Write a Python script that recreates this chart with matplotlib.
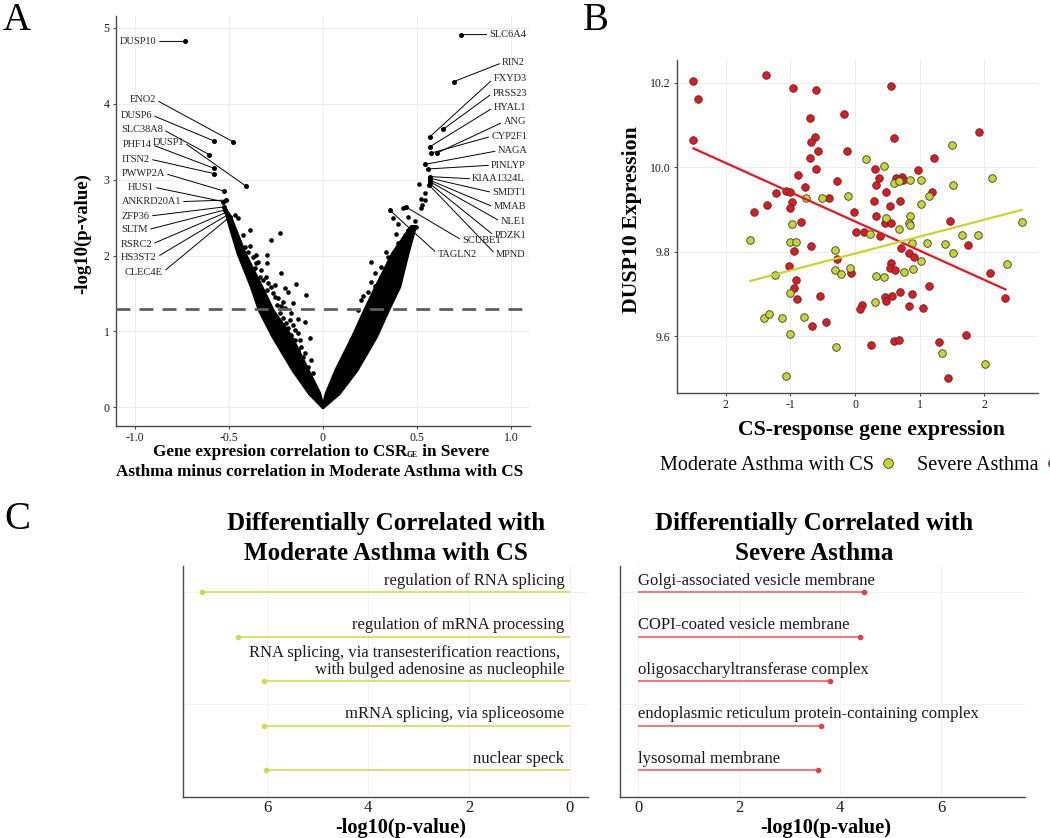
import matplotlib as mpl
import matplotlib.pyplot as plt
import numpy as np
from matplotlib.lines import Line2D
from matplotlib.text import Annotation

mpl.rcParams['font.family'] = 'serif'
mpl.rcParams['font.serif'] = ['Liberation Serif', 'DejaVu Serif']

# ---------------- panel A: volcano-like plot ----------------
left_genes = ["DUSP10", "ENO2", "DUSP6", "SLC38A8", "DUSP1", "PHF14", "ITSN2",
              "PWWP2A", "HUS1", "ANKRD20A1", "ZFP36", "SLTM", "RSRC2", "HS3ST2", "CLEC4E"]
left_x = [-0.734, -0.479, -0.580, -0.605, -0.407, -0.580, -0.580, -0.527, -0.531,
          -0.516, -0.527, -0.522, -0.513, -0.504, -0.495]
left_y = [4.82, 3.50, 3.51, 3.33, 2.91, 3.15, 3.08, 2.85, 2.71, 2.73, 2.64, 2.60,
          2.57, 2.54, 2.51]
left_lab_x = [-0.883, -0.888, -0.909, -0.851, -0.739, -0.909, -0.920, -0.840, -0.898,
              -0.755, -0.920, -0.931, -0.909, -0.883, -0.851]
left_lab_y = [4.82, 4.05, 3.85, 3.66, 3.49, 3.46, 3.27, 3.08, 2.90, 2.71, 2.52, 2.34,
              2.15, 1.98, 1.78]

right_genes = ["SLC6A4", "RIN2", "FXYD3", "PRSS23", "HYAL1", "ANG", "CYP2F1", "NAGA",
               "PINLYP", "KIAA1324L", "SMDT1", "MMAB", "NLE1", "PDZK1", "MPND",
               "SCUBE1", "TAGLN2"]
right_x = [0.735, 0.694, 0.566, 0.637, 0.566, 0.605, 0.575, 0.540, 0.557, 0.566,
           0.566, 0.570, 0.570, 0.566, 0.563, 0.440, 0.354]
right_y = [4.91, 4.29, 3.56, 3.66, 3.43, 3.35, 3.35, 3.20, 3.14, 3.04, 3.02, 2.99,
           2.97, 2.95, 2.93, 2.64, 2.60]
right_lab_x = [0.885, 0.952, 0.906, 0.902, 0.906, 0.959, 0.894, 0.929, 0.894, 0.793,
               0.899, 0.906, 0.943, 0.911, 0.920, 0.740, 0.610]
right_lab_y = [4.91, 4.54, 4.33, 4.14, 3.95, 3.76, 3.57, 3.38, 3.19, 3.01, 2.83, 2.64,
               2.45, 2.26, 2.01, 2.20, 2.02]

# dense cloud of genes: outline of the two arms
left_arm_y = [0, 0.18, 0.49, 0.93, 1.27, 1.59, 2.03, 2.47, 2.56]
left_arm_outer = [0, -0.071, -0.159, -0.265, -0.336, -0.380, -0.451, -0.504, -0.512]
left_arm_inner = [0, -0.018, -0.080, -0.168, -0.265, -0.327, -0.416, -0.486, -0.505]
right_arm_y = [0, 0.18, 0.49, 0.93, 1.27, 1.59, 2.03, 2.38]
right_arm_outer = [0, 0.085, 0.180, 0.283, 0.345, 0.407, 0.451, 0.490]
right_arm_inner = [0, 0.018, 0.070, 0.159, 0.221, 0.283, 0.372, 0.470]

# scattered genes off the dense arms
scat_x = [-0.425, -0.389, -0.451, -0.469, -0.274, -0.226, -0.389, -0.357, -0.300,
          -0.300, -0.354, -0.225, -0.304, -0.141, -0.256, -0.203, -0.186, -0.088,
          -0.256, -0.212, -0.159, -0.221, -0.168, -0.133, -0.097, -0.186, -0.133,
          -0.071, -0.150, -0.115, -0.097, -0.062, -0.080, -0.053,
          -0.416, -0.398, -0.372, -0.345, -0.363, -0.327, -0.336, -0.318, -0.292,
          -0.274, -0.300, -0.265, -0.239, -0.247, -0.203, -0.230, -0.212, -0.177,
          -0.194, -0.159, -0.150, -0.168, -0.124, -0.133, -0.106, -0.115, -0.088,
          -0.071, -0.062, -0.044,
          0.425, 0.451, 0.372, 0.398, 0.390, 0.487, 0.496, 0.508, 0.522, 0.540,
          0.522, 0.527, 0.540, 0.336, 0.345, 0.310, 0.327, 0.398, 0.310, 0.257,
          0.274, 0.253, 0.274, 0.239, 0.212, 0.204, 0.186, 0.177, 0.151, 0.133,
          0.098, 0.451, 0.434]
scat_y = [2.27, 2.34, 2.49, 2.53, 2.20, 2.30, 2.13, 2.01, 2.01, 1.90, 1.90, 1.77,
          1.72, 1.63, 1.61, 1.57, 1.52, 1.48, 1.46, 1.39, 1.37, 1.33, 1.24, 1.16,
          1.13, 1.04, 0.975, 0.91, 0.89, 0.80, 0.71, 0.62, 0.535, 0.45,
          2.116, 2.05, 1.984, 1.918, 1.831, 1.809, 1.72, 1.677, 1.634, 1.589, 1.545,
          1.502, 1.436, 1.348, 1.304, 1.238, 1.173, 1.150, 1.107, 1.084, 1.018,
          0.953, 0.887, 0.755, 0.667, 0.601, 0.514, 0.403, 0.316, 0.250,
          2.63, 2.51, 2.49, 2.42, 2.29, 2.45, 2.38, 2.94, 2.75, 2.73, 2.62, 2.67,
          2.82, 2.05, 1.98, 1.85, 1.79, 2.16, 1.72, 1.91, 1.77, 1.65, 1.60, 1.52,
          1.47, 1.41, 1.28, 1.00, 0.89, 0.755, 0.58, 2.34, 2.27]
sig_line = 1.3

# ---------------- panel B: scatter ----------------
sev_x = [-2.50, -1.38, -2.43, -0.96, -0.60, 0.562, -2.50, -0.70, -0.176, 0.608,
         1.913, -0.625, -0.687, -0.573, -0.124, -0.70, 1.223, -0.60, 0.304, 0.975,
         -0.878, -0.274, 0.371, 0.639, 0.722, 0.743, 0.319, -0.780, -1.218, -1.074,
         -1.002, 0.474, 1.192, -0.408, -0.971, 0.288, 0.701, 0.536, -1.362, -1.569,
         -1.012, -0.011, 0.319, 1.465, -0.831, 0.458, 0.562, 0.010, 0.133, 0.392,
         -0.950, -0.676, -0.279, 1.749, 0.717, 0.836, 0.913, 0.562, 0.536, 0.619,
         -1.022, -0.068, -0.919, -0.944, -0.898, -0.537, 1.146, 2.084, 2.322, 0.701,
         0.876, 0.458, 0.577, 0.485, 0.113, 0.082, 0.830, 1.053, -0.672, -0.444,
         0.252, 0.608, 0.675, 1.294, 1.707, 1.429]
sev_y = [10.204, 10.217, 10.161, 10.188, 10.183, 10.192, 10.064, 10.117, 10.125, 10.070,
         10.084, 10.072, 10.060, 10.038, 10.038, 10.022, 10.021, 9.996, 9.995, 9.993,
         9.981, 9.968, 9.974, 9.974, 9.976, 9.969, 9.958, 9.952, 9.938, 9.943,
         9.940, 9.940, 9.940, 9.928, 9.917, 9.919, 9.919, 9.909, 9.911, 9.894,
         9.903, 9.894, 9.885, 9.873, 9.870, 9.868, 9.867, 9.847, 9.847, 9.837,
         9.802, 9.814, 9.782, 9.816, 9.808, 9.796, 9.788, 9.774, 9.760, 9.756,
         9.767, 9.749, 9.733, 9.714, 9.688, 9.694, 9.718, 9.750, 9.690, 9.705,
         9.699, 9.693, 9.696, 9.683, 9.673, 9.663, 9.672, 9.667, 9.624, 9.634,
         9.579, 9.588, 9.591, 9.587, 9.602, 9.501]
mod_x = [1.500, 0.175, 0.443, 0.604, 0.681, 0.846, 1.016, 1.517, 2.110, 1.146,
         -0.754, -0.506, -0.104, 1.016, 0.846, 0.474, 2.574, -0.975, 0.836, 0.846,
         0.681, -1.621, 0.237, -1.012, -0.909, -0.315, 0.887, 1.104, 1.387, 1.656,
         1.904, 1.016, 1.506, 2.342, 0.752, 0.898, -1.238, -0.315, -0.212, -0.084,
         0.330, 0.443, -1.012, 0.310, -1.409, -1.331, -1.125, -0.789, -1.012, -0.289,
         1.351, 2.006, -1.074]
mod_y = [10.052, 10.018, 10.003, 9.962, 9.967, 9.969, 9.969, 9.958, 9.974, 9.932,
         9.926, 9.928, 9.932, 9.913, 9.885, 9.880, 9.869, 9.865, 9.868, 9.863,
         9.853, 9.827, 9.842, 9.823, 9.823, 9.803, 9.821, 9.820, 9.817, 9.839,
         9.839, 9.778, 9.797, 9.770, 9.752, 9.758, 9.745, 9.756, 9.746, 9.762,
         9.741, 9.740, 9.703, 9.681, 9.642, 9.652, 9.642, 9.645, 9.606, 9.573,
         9.560, 9.535, 9.506]

# ---------------- panel C: enrichment lollipops ----------------
mod_terms = ["regulation of RNA splicing", "regulation of mRNA processing",
             "RNA splicing, via transesterification reactions, \nwith bulged adenosine as nucleophile",
             "mRNA splicing, via spliceosome", "nuclear speck"]
mod_pval = [7.28, 6.57, 6.06, 6.06, 6.03]
sev_terms = ["Golgi-associated vesicle membrane", "COPI-coated vesicle membrane",
             "oligosaccharyltransferase complex",
             "endoplasmic reticulum protein-containing complex", "lysosomal membrane"]
sev_pval = [4.47, 4.40, 3.79, 3.61, 3.55]

RED = '#E8161D'
GREEN = '#C8D62B'
W, H = 1050, 838


def fx(px):
    return px / W


def fy(py):
    return 1 - py / H


def style(ax, size):
    for s in ['top', 'right']:
        ax.spines[s].set_visible(False)
    for s in ['left', 'bottom']:
        ax.spines[s].set_color('#4A4A4A')
        ax.spines[s].set_linewidth(1.0)
    ax.grid(True, color='#EDEDED', lw=0.7)
    ax.set_axisbelow(True)
    ax.tick_params(length=2.5, width=0.8, color='#4A4A4A', labelcolor='#1A1A1A',
                   labelsize=size, pad=2)


fig = plt.figure(figsize=(W / 100, H / 100), dpi=100)

# ----- A -----
axA = fig.add_axes([fx(116), fy(426), (530 - 116) / W, (426 - 16) / H])
style(axA, 8.5)
for outer, inner, ys in [(left_arm_outer, left_arm_inner, left_arm_y),
                         (right_arm_outer, right_arm_inner, right_arm_y)]:
    axA.fill(np.concatenate([outer, inner[::-1]]), np.concatenate([ys, ys[::-1]]),
             color='black', lw=2.5, joinstyle='round', zorder=2)
axA.scatter(scat_x, scat_y, s=11, color='black', lw=0, zorder=3)
axA.scatter(left_x + right_x, left_y + right_y, s=13, color='black', lw=0, zorder=3)
axA.axhline(sig_line, color='#5E5E5E', lw=2.0, ls=(0, (5, 3.3)), zorder=4)
for g, px, py, lx, ly in zip(left_genes, left_x, left_y, left_lab_x, left_lab_y):
    axA.annotate(g, xy=(px, py), xytext=(lx, ly), ha='right', va='center', fontsize=7.5,
                 color='#222222',
                 arrowprops=dict(arrowstyle='-', lw=0.7, color='black', relpos=(1, 0.5),
                                 shrinkA=0, shrinkB=1))
for g, px, py, lx, ly in zip(right_genes, right_x, right_y, right_lab_x, right_lab_y):
    axA.annotate(g, xy=(px, py), xytext=(lx, ly), ha='left', va='center', fontsize=7.5,
                 color='#222222',
                 arrowprops=dict(arrowstyle='-', lw=0.7, color='black', relpos=(0, 0.5),
                                 shrinkA=0, shrinkB=1))
axA.set_xlim(-1.1, 1.1)
axA.set_ylim(-0.2455, 5.155)
axA.set_xticks([-1, -0.5, 0, 0.5, 1])
axA.set_xticklabels(['-1.0', '-0.5', '0', '0.5', '1.0'])
axA.set_yticks([0, 1, 2, 3, 4, 5])
fig.text(fx(83), fy(234), '-log10(p-value)', rotation=90, ha='center', va='center',
         fontsize=13.5, fontweight='bold')
# x label, first line built from pieces so that "GE" is a tiny subscript
t1 = fig.text(fx(152.7), fy(451.7), 'Gene expresion correlation to CSR', ha='left',
              va='center', fontsize=12.3, fontweight='bold')
t2 = fig.add_artist(Annotation('GE', xy=(1, 0.02), xycoords=t1, ha='left',
                               va='bottom', fontsize=5.5, fontweight='bold'))
fig.add_artist(Annotation(' in Severe', xy=(1, 0), xycoords=(t2, t1), ha='left',
                          va='bottom', fontsize=12.3, fontweight='bold'))
fig.text(fx(320), fy(471.7), 'Asthma minus correlation in Moderate Asthma with CS',
         ha='center', va='center', fontsize=12.3, fontweight='bold')

# ----- B -----
axB = fig.add_axes([fx(677), fy(393), (1038 - 677) / W, (393 - 60.3) / H])
style(axB, 8.5)
axB.scatter(sev_x, sev_y, s=30, color=RED, edgecolor='#3A3A3A', lw=0.6, zorder=3)
axB.scatter(mod_x, mod_y, s=30, color=GREEN, edgecolor='#3A3A3A', lw=0.6, zorder=3)
for xs, ys, c in [(sev_x, sev_y, RED), (mod_x, mod_y, GREEN)]:
    k, b = np.polyfit(xs, ys, 1)
    xl = np.array([min(xs), max(xs)])
    axB.plot(xl, k * xl + b, color=c, lw=1.6, zorder=4)
allx = sev_x + mod_x
ally = sev_y + mod_y
sx = max(allx) - min(allx)
sy = max(ally) - min(ally)
axB.set_xlim(min(allx) - 0.05 * sx, max(allx) + 0.05 * sx)
axB.set_ylim(min(ally) - 0.05 * sy, max(ally) + 0.05 * sy)
axB.set_xticks([-2, -1, 0, 1, 2])
axB.set_xticklabels(['2', '-1', '0', '1', '2'])
axB.set_yticks([9.6, 9.8, 10.0, 10.2])
fig.text(fx(632), fy(220), 'DUSP10 Expression', rotation=90, ha='center', va='center',
         fontsize=15.7, fontweight='bold')
fig.text(fx(872), fy(430), 'CS-response gene expression', ha='center', va='center',
         fontsize=15.7, fontweight='bold')
handles = [Line2D([], [], ls='', marker='o', ms=7, mfc=GREEN, mec='#3A3A3A', mew=0.6),
           Line2D([], [], ls='', marker='o', ms=7, mfc=RED, mec='#3A3A3A', mew=0.6)]
fig.legend(handles, ['Moderate Asthma with CS', 'Severe Asthma'], loc='center',
           bbox_to_anchor=(fx(861.5), fy(465)), ncol=2, frameon=False, markerfirst=False,
           fontsize=14.5, handletextpad=0.2, columnspacing=0.95, handlelength=1.0)

# ----- C -----
rows = [5, 4, 3, 2, 1]
axC1 = fig.add_axes([fx(183.3), fy(797), 405 / W, (797 - 565.6) / H])
axC2 = fig.add_axes([fx(620), fy(797), 405 / W, (797 - 565.6) / H])
for ax, terms, vals, lc, pc, side in [(axC1, mod_terms, mod_pval, '#D6E060', '#CEDB4C', 'right'),
                                      (axC2, sev_terms, sev_pval, '#F26B6E', '#EE3A40', 'left')]:
    style(ax, 12)
    ax.hlines(rows, 0, vals, color=lc, lw=1.3, zorder=2)
    ax.scatter(vals, rows, s=16, color=pc, lw=0, zorder=3)
    for t, r in zip(terms, rows):
        dx = -4 if side == 'right' else 0
        ax.annotate(t, xy=(0, r), xytext=(dx, 2.5), textcoords='offset points',
                    ha=side, va='bottom', fontsize=12, color='#1A1A1A',
                    multialignment=side, linespacing=1.05)
    ax.set_ylim(0.4, 5.6)
    ax.set_yticks([2.5, 5])
    ax.set_yticklabels([])
    ax.tick_params(axis='y', length=0)
    ax.tick_params(axis='x', length=0, pad=2)
    ax.set_xticks([0, 2, 4, 6])
    ax.grid(True, color='#F2F2F2', lw=0.7)
axC1.set_xlim(7.66, -0.365)
axC2.set_xlim(-0.365, 7.66)

for cx, lines in [(386, ['Differentially Correlated with', 'Moderate Asthma with CS']),
                  (814, ['Differentially Correlated with', 'Severe Asthma'])]:
    for ln, yy in zip(lines, [523, 553]):
        fig.text(fx(cx), fy(yy), ln, ha='center', va='center', fontsize=18,
                 fontweight='bold')
fig.text(fx(401), fy(828), '-log10(p-value)', ha='center', va='center', fontsize=14.7,
         fontweight='bold')
fig.text(fx(826), fy(828), '-log10(p-value)', ha='center', va='center', fontsize=14.7,
         fontweight='bold')

# panel letters
for letter, px, py in [('A', 17, 20), ('B', 596, 20), ('C', 17, 519)]:
    fig.text(fx(px), fy(py), letter, ha='center', va='center', fontsize=28)

fig.savefig('out.png', dpi=100)
